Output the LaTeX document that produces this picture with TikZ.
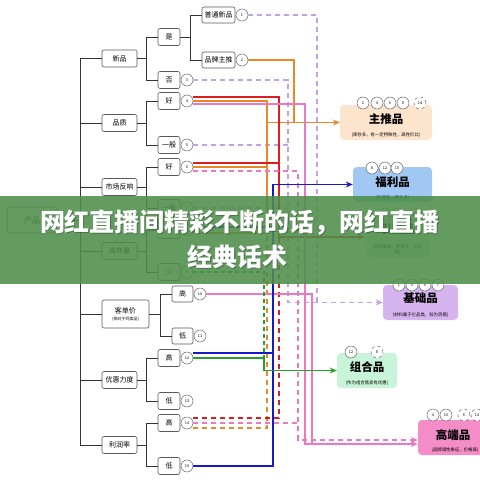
\documentclass[tikz,border=0pt]{standalone}
\usepackage{fontspec}
\setmainfont{Noto Sans CJK SC}
\usetikzlibrary{arrows.meta}
\definecolor{lavc}{RGB}{196,160,232}
\definecolor{orc}{RGB}{232,136,40}
\definecolor{rdc}{RGB}{222,30,30}
\definecolor{pkc}{RGB}{236,120,196}
\definecolor{blc}{RGB}{24,24,200}
\definecolor{grc}{RGB}{40,160,40}
\definecolor{bandc}{RGB}{78,142,74}
\definecolor{ztc}{RGB}{253,228,204}
\definecolor{flc}{RGB}{160,200,242}
\definecolor{xxc}{RGB}{225,240,220}
\definecolor{jcc}{RGB}{214,180,240}
\definecolor{zhc}{RGB}{200,245,218}
\definecolor{gdc}{RGB}{244,140,200}
\tikzset{
  tn/.style={draw=black!65, line width=0.6pt, fill=white, rounded corners=2pt, inner sep=0pt,
    font=\fontsize{7}{7}\selectfont, minimum height=17pt, minimum width=22pt},
  ln/.style={tn, minimum width=35pt, font=\fontsize{7}{7}\selectfont},
  num/.style={circle, draw=black!60, line width=0.5pt, fill=white, minimum size=12pt, inner sep=0pt,
    font=\fontsize{3.8}{4}\selectfont},
  numd/.style={num, dashed},
  tree/.style={draw=black!80, line width=1pt},
  lav/.style={draw=lavc, line width=1.3pt, dash pattern=on 5pt off 4pt},
  org/.style={draw=orc, line width=1.3pt},
  orgd/.style={org, dash pattern=on 5pt off 4pt},
  red1/.style={draw=rdc, line width=1.3pt},
  redd/.style={red1, dash pattern=on 5pt off 4pt},
  pk/.style={draw=pkc, line width=1.3pt},
  pkd/.style={pk, dash pattern=on 5pt off 4pt},
  bl/.style={draw=blc, line width=1.3pt},
  gr/.style={draw=grc, line width=1.3pt},
  grd/.style={gr, dash pattern=on 4pt off 3pt},
  tip/.style={-{Stealth[length=7pt,width=6pt]}},
  dest/.style={rounded corners=4pt, inner sep=0pt, align=center},
  ttl/.style={font=\fontsize{11.5}{12}\selectfont\bfseries},
  sub/.style={font=\fontsize{4.4}{5}\selectfont},
}
\begin{document}
\begin{tikzpicture}[x=1pt,y=-1pt]
\useasboundingbox (0,0) rectangle (480,480);
\fill[white] (0,0) rectangle (480,480);
% tree nodes
\node[tn, minimum width=50pt, minimum height=26pt, font=\fontsize{8}{9}\selectfont] (root) at (32,220) {产品};
\node[ln] (xp) at (119.5,58.5) {新品};
\node[ln] (pz) at (119.5,123) {品质};
\node[ln] (sc) at (119.5,187) {市场反响};
\node[ln] (kc) at (119.5,251) {库存量};
\node[tn, minimum width=47pt, minimum height=28pt, align=center, font=\fontsize{7}{8}\selectfont] (kd) at (125.5,314) {客单价\\[-1pt]{\fontsize{4}{5}\selectfont(相对于同类品)}};
\node[ln] (yh) at (119.5,380) {优惠力度};
\node[ln] (lr) at (119.5,445) {利润率};
\node[tn] (shi) at (169,37) {是};
\node[tn] (fou) at (169,80) {否};
\node[tn] (hao1) at (169,101) {好};
\node[tn] (yb1) at (169,145) {一般};
\node[tn] (hao2) at (169,167) {好};
\node[tn] (yb2) at (169,208) {一般};
\node[tn] (duo) at (169,230) {多};
\node[tn] (shao) at (169,272) {少};
\node[tn, minimum width=21pt, minimum height=16pt] (gao1) at (182.5,294) {高};
\node[tn, minimum width=21pt, minimum height=16pt] (di1) at (182.5,336) {低};
\node[tn] (gao2) at (169,358) {高};
\node[tn] (di2) at (169,401) {低};
\node[tn] (gao3) at (169,423) {高};
\node[tn] (di3) at (169,466) {低};
\node[tn, minimum width=33pt, minimum height=16pt] (pt) at (218.5,15) {普通新品};
\node[tn, minimum width=33pt, minimum height=16pt] (pp) at (218.5,60) {品牌主推};
% number circles
\node[num] (c1) at (242,15) {1};
\node[num] (c2) at (242,60) {2};
\node[num] (c3) at (187,80) {3};
\node[num] (c4) at (187,101) {4};
\node[num] (c5) at (187,145) {5};
\node[num] (c6) at (187,167) {6};
\node[num] (c7) at (187,208) {7};
\node[num] (c8) at (187,230) {8};
\node[num] (c9) at (187,272) {9};
\node[num] (c10) at (200,294) {10};
\node[num] (c11) at (200,336) {11};
\node[num] (c12) at (187,358) {12};
\node[num] (c13) at (187,401) {13};
\node[num] (c14) at (187,423) {14};
\node[num] (c15) at (187,466) {15};
% tree connectors
\coordinate (sp) at (80,0);
\draw[tree] (root.east) -- (sp|-root.east);
\draw[tree] (sp|-xp.west) -- (sp|-lr.west);
\foreach \n in {xp,pz,sc,kc,kd,yh,lr} \draw[tree] (sp|-\n.west) -- (\n.west);
\foreach \p/\a/\b in {xp/shi/fou, pz/hao1/yb1, sc/hao2/yb2, kc/duo/shao, kd/gao1/di1, yh/gao2/di2, lr/gao3/di3, shi/pt/pp}{
  \draw[tree] (\p.east) -- ([xshift=-11pt]\p.east -| \a.west);
  \draw[tree] (\a.west) -- ++(-11,0) |- (\b.west);
}
% destination boxes
\node[dest, fill=ztc, minimum width=92pt, minimum height=35pt] (zt) at (386,122.5) {};
\node[ttl] at (386,119) {主推品};
\node[sub] at (386,135) {(库存多，有一定特殊性，高性价比)};
\node[dest, fill=flc, minimum width=79pt, minimum height=35pt] (fl) at (392.5,184.5) {};
\node[ttl] at (392.5,182) {福利品};
\node[sub] at (392.5,198) {(利润低，库存多)};
\node[dest, fill=xxc, minimum width=65pt, minimum height=43pt] (xx) at (397.5,235.5) {};
\node[ttl] at (397.5,229) {引流品};
\node[sub, align=center] at (397.5,250) {(辨识度高，热度大，利润\\高)};
\node[dest, fill=jcc, minimum width=75pt, minimum height=35pt] (jc) at (420.5,302.5) {};
\node[ttl] at (420.5,298) {基础品};
\node[sub] at (420.5,315) {(材料属于它品类，较为百搭)};
\node[dest, fill=zhc, minimum width=60pt, minimum height=35pt] (zh) at (367,370.5) {};
\node[ttl] at (367,367) {组合品};
\node[sub] at (367,383) {(作为组合售卖有优惠)};
\node[dest, fill=gdc, minimum width=74pt, minimum height=35pt] (gd) at (455,437.5) {};
\node[ttl] at (453,435) {高端品};
\node[sub] at (455,450) {(品牌调性象征，价格高)};
% circles on destination boxes
\foreach \t/\x in {2/363,4/377,6/390,8/403} \node[num] at (\x,103) {\t};
\node[numd] at (420,103) {14};
\foreach \t/\x in {8/372,12/385,15/397} \node[num] at (\x,168) {\t};
\foreach \t/\x in {4/385,6/398} \node[num] at (\x,214) {\t};
\node[numd] at (414,214) {14};
\foreach \t/\x in {1/399,3/412,5/425,7/438} \node[num] at (\x,285) {\t};
\node[num] at (351,352) {12};
\node[numd] at (377,352) {8};
\foreach \t/\x in {4/433,10/446} \node[num] at (\x,415) {\t};
\foreach \t/\x in {6/464,14/477} \node[numd] at (\x,415) {\t};
% purple dashed -> 基础品
\draw[lav] (c1.east) -| (317,302.5);
\draw[lav] (c5.east) -- (288,145);
\draw[lav] (c7.east) -- (288,208);
\draw[lav, tip] (c3.east) -| (288,302.5) -- (jc.west);
% orange -> 主推品
\draw[org] (c2.east) -| (294,122.5);
\draw[org] (c4.east) -| (267,230);
\draw[org] (c6.east) -- (267,167);
\draw[org] ([yshift=-3pt]c8.east) -- (267,233);
\draw[orgd] ([yshift=-5pt]c14.east) -| (267,230);
\draw[org, tip] (267,122.5) -- (zt.west);
% red -> 引流品
\draw[red1, tip] ([yshift=4pt]c4.east) -| (279,237) -- (xx.west|-0,237);
\draw[red1] ([yshift=4pt]c6.east) -- (279,163);
\draw[redd] ([yshift=5pt]c14.east) -| (279,237);
% pink -> 高端品
\draw[pk, tip] ([yshift=-3pt]c4.east) -| (305,444) -- (gd.west|-0,444);
\draw[pk] (c10.east) -| (312,444);
\draw[pkd, tip] ([yshift=-4pt]c6.east) -| (298,440) -- (gd.west|-0,440);
\draw[pkd] (c14.east) -- (298,423);
% blue -> 福利品
\draw[bl, tip] (c15.east) -| (273,184.5) -- (fl.west);
\draw[bl] ([yshift=5pt]c12.east) -- (273,353);
\draw[bl] ([yshift=3pt]c8.east) -- (273,227);
% green -> 组合品
\draw[gr, tip] (c12.east) -| (264,370.5) -- (zh.west);
\draw[grd] (c9.east) -| (264,358);
% banner
\fill[bandc, opacity=0.88] (0,196) rectangle (480,284);
\node[font=\fontsize{25}{26}\selectfont\bfseries, text=black, opacity=0.25] at (241,224) {网红直播间精彩不断的话，网红直播};
\node[font=\fontsize{25}{26}\selectfont\bfseries, text=black, opacity=0.25] at (238,258) {经典话术};
\node[font=\fontsize{25}{26}\selectfont\bfseries, text=white] (t1) at (240,223) {网红直播间精彩不断的话，网红直播};
\node[font=\fontsize{25}{26}\selectfont\bfseries, text=white] (t2) at (237,257) {经典话术};
\end{tikzpicture}
\end{document}
